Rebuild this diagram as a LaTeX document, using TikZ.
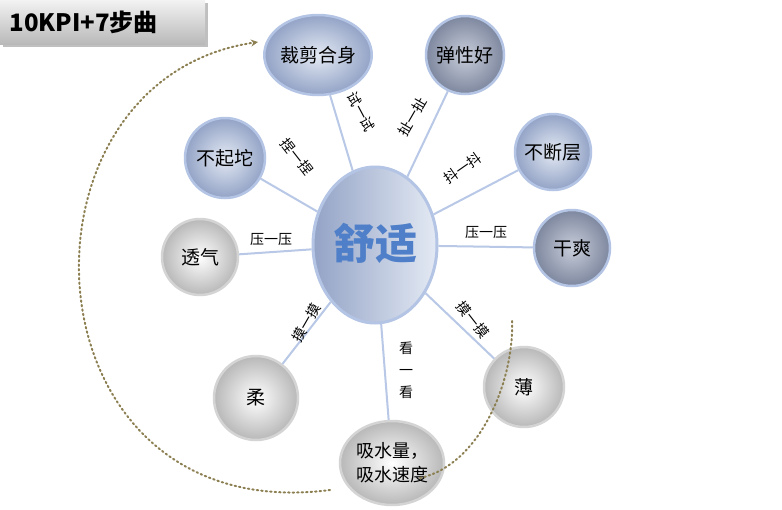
\documentclass[tikz,border=0pt]{standalone}
\usepackage{fontspec}
\setmainfont{Noto Sans CJK SC}
\usetikzlibrary{arrows.meta,shadows,shapes.geometric}
\definecolor{olive}{HTML}{8C8052}
\definecolor{blueedge}{HTML}{B4C4E4}
\definecolor{greyedge}{HTML}{D4D4D4}
\definecolor{bluein}{HTML}{E4EAF4}
\definecolor{blueout}{HTML}{93A3C6}
\definecolor{darkin}{HTML}{C8CDDA}
\definecolor{darkout}{HTML}{7D879E}
\definecolor{greyout}{HTML}{B8B8B8}
\definecolor{spokec}{HTML}{B8C8E6}
\definecolor{ctext}{HTML}{4F7FC8}
\tikzset{
 bub/.style={circle,draw=#1,line width=2.5pt,inner sep=0pt,font=\fontsize{19}{22}\selectfont},
 blueb/.style={bub=blueedge,shading=radial,inner color=bluein,outer color=blueout},
 darkb/.style={bub=blueedge,shading=radial,inner color=darkin,outer color=darkout},
 greyb/.style={bub=greyedge,shading=radial,inner color=white,outer color=greyout},
 spoke/.style={draw=spokec,line width=2pt},
 lab/.style={font=\fontsize{14}{15}\selectfont,inner sep=1pt},
 dot/.style={olive,line width=2pt,dash pattern=on 1.5pt off 3pt,line cap=round}
}
\begin{document}
\begin{tikzpicture}[x=1pt,y=-1pt]
\useasboundingbox[fill=white] (0,0) rectangle (782,509);
% title
\node[anchor=north west,minimum width=205,minimum height=44,inner sep=0pt,
 top color=gray!10,bottom color=gray!55,drop shadow] (title) at (0,0) {};
\node[anchor=west,font=\fontsize{24}{26}\selectfont\bfseries] (tt) at (6,22) {10KPI+7步曲};
% bubbles
\node[blueb,minimum width=96,minimum height=80,ellipse] (a) at (318,55) {裁剪合身};
\node[darkb,minimum size=78] (b) at (465,55) {弹性好};
\node[blueb,minimum size=76] (d) at (553,152) {不断层};
\node[darkb,minimum size=76] (e) at (572,248) {干爽};
\node[greyb,minimum size=80] (f) at (524,387) {薄};
\node[greyb,ellipse,minimum width=104,minimum height=84,align=left,font=\fontsize{18}{24}\selectfont] (g) at (392,463) {吸水量，\\吸水速度};
\node[greyb,minimum size=84] (h) at (256,398) {柔};
\node[greyb,minimum size=76] (i) at (200,257) {透气};
\node[blueb,minimum size=80] (j) at (225,158) {不起坨};
% center
\node[ellipse,minimum width=124,minimum height=156,draw=blueedge,line width=3pt,
 left color=blueout,right color=bluein,inner sep=0pt] (c) at (375,245) {};
\node[font=\fontsize{42}{44}\selectfont\bfseries,text=ctext] (ct) at (375,243) {舒适};
% spokes
\foreach \n in {a,b,d,e,f,g,h,i,j} \draw[spoke] (c) -- (\n);
% labels
\node[lab,rotate=-62] (l1) at (361,112) {试一试};
\node[lab,rotate=60] (l2) at (412,117) {扯一扯};
\node[lab,rotate=-52] (l3) at (297,157) {捏一捏};
\node[lab,rotate=35] (l4) at (463,168) {抖一抖};
\node[lab] (l5) at (271,240) {压一压};
\node[lab] (l6) at (486,233) {压一压};
\node[lab,rotate=60] (l7) at (306,323) {摸一摸};
\node[lab,rotate=-52] (l8) at (473,320) {摸一摸};
\node[lab,align=center,font=\fontsize{14}{22}\selectfont] (l9) at (406,370) {看\\一\\看};
% dotted arcs
\coordinate (s1) at (330,490);
\coordinate (e1) at (258,42);
\draw[dot,-{Stealth[length=7pt,width=7pt]}] (s1) .. controls (20,530) and (0,80) .. (e1);
\coordinate (s2) at (420,478);
\coordinate (e2) at (512,318);
\draw[dot] (s2) .. controls (480,465) and (515,380) .. (e2);
\end{tikzpicture}
\end{document}
